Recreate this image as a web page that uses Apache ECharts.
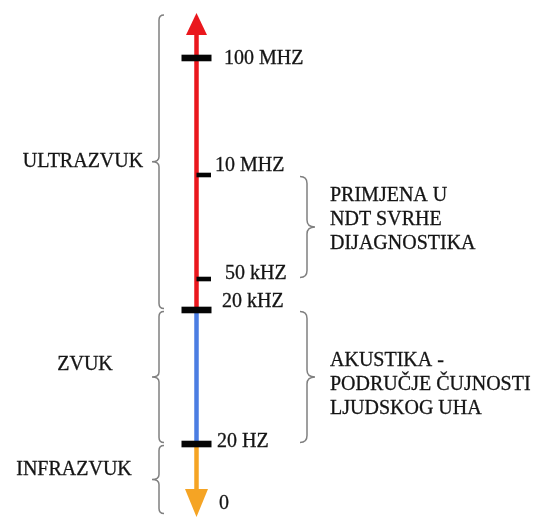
<!DOCTYPE html>
<html>
<head>
<meta charset="utf-8">
<script src="https://cdn.jsdelivr.net/npm/echarts@6/dist/echarts.min.js"></script>
<style>
  html, body { margin: 0; padding: 0; background: #ffffff; }
  #chart { width: 534px; height: 517px; }
</style>
</head>
<body>
<div id="chart"></div>
<script>
// ---- data (schematic diagram levels: 0 = bottom tip, 100 = top tip) ----
const tickLabels = ['0', '20 HZ', '20 kHZ', '50 kHZ', '10 MHZ', '100 MHZ'];
const tickLevels = [0, 14.14, 40.84, 47.01, 67.73, 91.04];
const tickKinds  = ['none', 'major', 'major', 'minor', 'minor', 'major'];

const bandNames = ['INFRAZVUK', 'ZVUK', 'ULTRAZVUK'];
const bandFrom  = [0, 14.14, 40.84];
const bandTo    = [14.14, 40.84, 100];

const noteTexts = ['AKUSTIKA -\nPODRUČJE ČUJNOSTI\nLJUDSKOG UHA', 'PRIMJENA U\nNDT SVRHE\nDIJAGNOSTIKA'];
const noteFrom  = [14.14, 47.01];
const noteTo    = [40.84, 67.73];

// ---- layout / style ----
const AXIS_X = 196.5;
const bandColors = ['#F5A424', '#4B7DE2', '#EA171D'];
const tickLabelX  = [219, 217, 222, 225, 215, 224];
const tickLabelDy = [-11.5, -2, -8, -5, -9, 1];
const bandLabelX  = [74, 85, 83];
const bandLabelDy = [-10, -12, 0];
const noteDy = [7.5, -7.5];
const FONT = 'normal 400 20px "Liberation Serif", "DejaVu Serif", serif';
const TEXT_COLOR = '#141414';
const BRACE_COLOR = '#808080';

function txt(text, x, y, align, extra) {
  return Object.assign({
    text: text, x: x, y: y,
    font: FONT, fill: TEXT_COLOR,
    stroke: TEXT_COLOR, lineWidth: 0.3,
    align: align, verticalAlign: 'middle'
  }, extra || {});
}

function bracePath(x, y1, y2, dir, curl, tip) {
  const ym = (y1 + y2) / 2;
  const e = -dir * curl;
  return 'M' + (x + e) + ',' + y1 +
    ' Q' + x + ',' + y1 + ' ' + x + ',' + (y1 + curl) +
    ' L' + x + ',' + (ym - curl) +
    ' Q' + x + ',' + ym + ' ' + (x + dir * tip) + ',' + ym +
    ' Q' + x + ',' + ym + ' ' + x + ',' + (ym + curl) +
    ' L' + x + ',' + (y2 - curl) +
    ' Q' + x + ',' + y2 + ' ' + (x + e) + ',' + y2;
}

const chart = echarts.init(document.getElementById('chart'), null, { renderer: 'canvas' });

const option = {
  animation: false,
  backgroundColor: '#ffffff',
  grid: { left: 0, right: 0, top: 13, bottom: 2 },
  xAxis: { type: 'value', min: 0, max: 534, show: false },
  yAxis: { type: 'value', min: 0, max: 100, show: false },
  series: [
    {
      type: 'custom',
      silent: true,
      data: bandNames.map((n, i) => [AXIS_X, bandFrom[i], bandTo[i], i]),
      renderItem: function (params, api) {
        const i = api.value(3);
        const p0 = api.coord([AXIS_X, api.value(1)]);
        const p1 = api.coord([AXIS_X, api.value(2)]);
        const color = bandColors[i];
        const children = [];
        let yTop = p1[1], yBot = p0[1];
        if (i === bandNames.length - 1) {
          const tipY = p1[1], baseY = tipY + 22;
          children.push({
            type: 'polygon',
            shape: { points: [[p1[0], tipY], [p1[0] - 10.5, baseY], [p1[0] + 10.5, baseY]] },
            style: { fill: color }
          });
          yTop = baseY - 1;
        }
        if (i === 0) {
          const tipY = p0[1] + 2, baseY = tipY - 28;
          children.push({
            type: 'polygon',
            shape: { points: [[p0[0], tipY], [p0[0] - 11.5, baseY], [p0[0] + 11.5, baseY]] },
            style: { fill: color }
          });
          yBot = baseY + 1;
        }
        children.unshift({
          type: 'line',
          shape: { x1: p0[0], y1: yBot, x2: p1[0], y2: yTop },
          style: { stroke: color, lineWidth: 4.5 }
        });
        return { type: 'group', children: children };
      }
    },
    {
      type: 'custom',
      silent: true,
      z: 3,
      data: tickLabels.map((l, i) => [AXIS_X, tickLevels[i], i]),
      renderItem: function (params, api) {
        const i = api.value(2);
        const p = api.coord([AXIS_X, api.value(1)]);
        const children = [];
        if (tickKinds[i] === 'major') {
          children.push({ type: 'rect', shape: { x: p[0] - 15, y: p[1] - 3.3, width: 30, height: 6.6 }, style: { fill: '#050505' } });
        } else if (tickKinds[i] === 'minor') {
          children.push({ type: 'rect', shape: { x: p[0], y: p[1] - 2.3, width: 14.5, height: 4.6 }, style: { fill: '#050505' } });
        }
        children.push({ type: 'text', style: txt(tickLabels[i], tickLabelX[i], p[1] + tickLabelDy[i], 'left') });
        return { type: 'group', children: children };
      }
    },
    {
      type: 'custom',
      silent: true,
      data: bandNames.map((n, i) => [AXIS_X, bandFrom[i], bandTo[i], i]),
      renderItem: function (params, api) {
        const i = api.value(3);
        const yb = api.coord([AXIS_X, api.value(1)])[1];
        const yt = api.coord([AXIS_X, api.value(2)])[1];
        const y1 = yt + (i === bandNames.length - 1 ? 2 : 1.5);
        const y2 = yb - 1.5;
        const ym = (y1 + y2) / 2;
        return {
          type: 'group',
          children: [
            { type: 'path', shape: { pathData: bracePath(159, y1, y2, -1, 5, 7) },
              style: { stroke: BRACE_COLOR, fill: null, lineWidth: 1.5 } },
            { type: 'text', style: txt(bandNames[i], bandLabelX[i], ym + bandLabelDy[i], 'center') }
          ]
        };
      }
    },
    {
      type: 'custom',
      silent: true,
      data: noteTexts.map((t, i) => [AXIS_X, noteFrom[i], noteTo[i], i]),
      renderItem: function (params, api) {
        const i = api.value(3);
        const yb = api.coord([AXIS_X, api.value(1)])[1];
        const yt = api.coord([AXIS_X, api.value(2)])[1];
        const y1 = yt + 1.5, y2 = yb - 1.5;
        const ym = (y1 + y2) / 2;
        return {
          type: 'group',
          children: [
            { type: 'path', shape: { pathData: bracePath(307, y1, y2, 1, 7, 8) },
              style: { stroke: BRACE_COLOR, fill: null, lineWidth: 1.5 } },
            { type: 'text', style: txt(noteTexts[i], 330, ym + noteDy[i], 'left', { lineHeight: 24 }) }
          ]
        };
      }
    }
  ]
};

chart.setOption(option);
</script>
</body>
</html>
